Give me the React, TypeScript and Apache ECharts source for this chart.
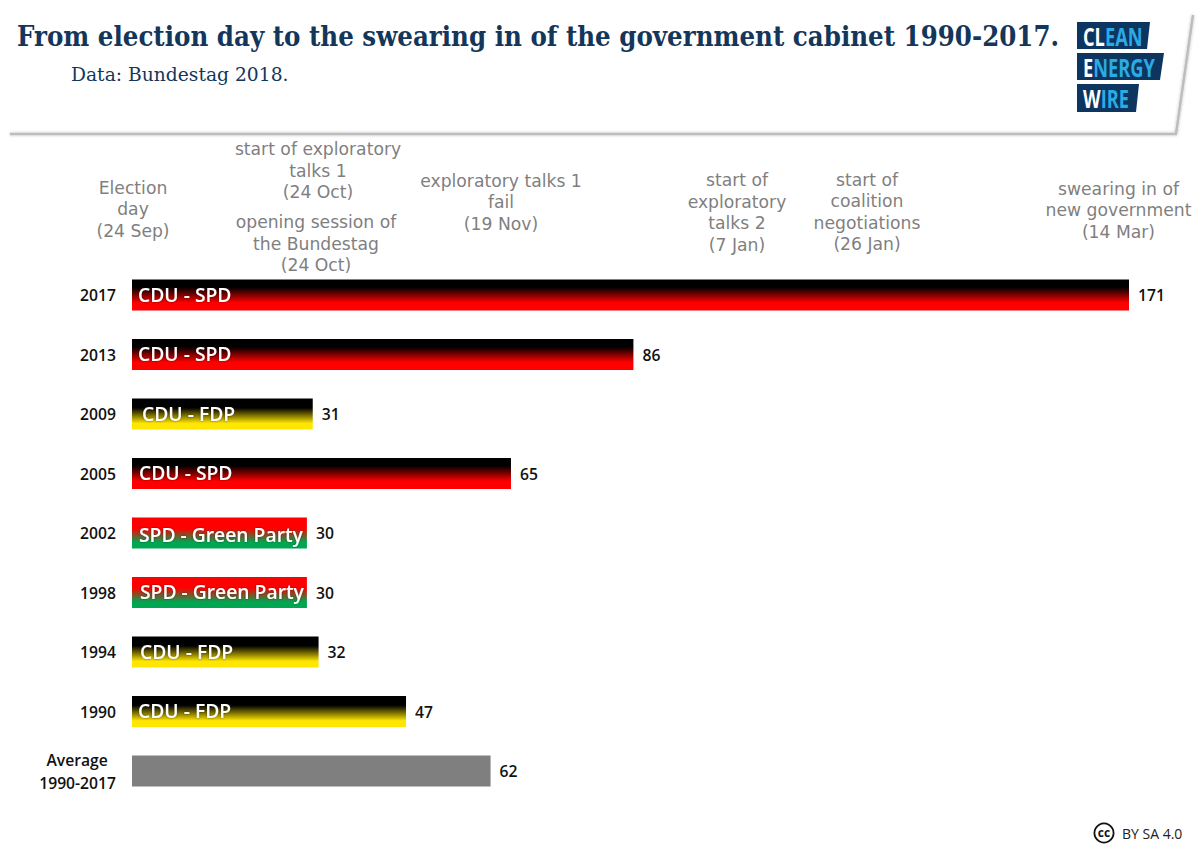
import React, { useEffect, useRef } from "react";
import * as echarts from "echarts";

const categories = ["2017", "2013", "2009", "2005", "2002", "1998", "1994", "1990", "Average\u00A0\u00A0\n1990-2017"];
const days = [171, 86, 31, 65, 30, 30, 32, 47, 61.5];
const coalitions = ["CDU - SPD", "CDU - SPD", "CDU - FDP", "CDU - SPD", "SPD - Green Party", "SPD - Green Party", "CDU - FDP", "CDU - FDP", ""];
const kinds = ["bs", "bs", "by", "bs", "rg", "rg", "by", "by", "avg"];
const milestones = [
  { text: "Election\nday\n(24 Sep)", x: 133, y: 209 },
  { text: "start of exploratory\ntalks 1\n(24 Oct)", x: 318, y: 170.5 },
  { text: "opening session of\nthe Bundestag\n(24 Oct)", x: 316, y: 243.5 },
  { text: "exploratory talks 1\nfail\n(19 Nov)", x: 501, y: 202 },
  { text: "start of\nexploratory\ntalks 2\n(7 Jan)", x: 737, y: 212.5 },
  { text: "start of\ncoalition\nnegotiations\n(26 Jan)", x: 867, y: 212 },
  { text: "swearing in of\nnew government\n(14 Mar)", x: 1118.5, y: 210 },
];
const title = "From election day to the swearing in of the government cabinet 1990-2017.";
const subtitle = "Data: Bundestag 2018.";

const grad = (stops: [number, string][]) =>
  new echarts.graphic.LinearGradient(0, 0, 0, 1, stops.map(([offset, color]) => ({ offset, color })));

const fills: Record<string, () => any> = {
  bs: () => grad([[0, "#000000"], [0.25, "#000000"], [0.75, "#ff0000"], [1, "#ff0000"]]),
  by: () => grad([[0, "#000000"], [0.3, "#000000"], [0.8, "#ffe600"], [1, "#ffe600"]]),
  rg: () => grad([[0, "#ff0000"], [0.35, "#ff0000"], [0.8, "#00a651"], [1, "#00a651"]]),
  avg: () => "#7f7f7f",
};

const labelOffsets = [[6, -1], [6, -1], [10, -1], [7, -1], [7, 1], [8, -1], [8, -1], [6, -1], [0, 0]];

const logoFont = "700 25px 'Open Sans'";
const logoRow = (pts: number[][], y: number, white: string, blue: string) => [
  { type: "polygon", shape: { points: pts }, style: { fill: "#0c3560" } },
  {
    type: "text", x: 1083, y, scaleX: 0.73,
    style: {
      text: `{w|${white}}{b|${blue}}`, verticalAlign: "middle", align: "left",
      rich: {
        w: { fill: "#ffffff", font: logoFont },
        b: { fill: "#2babe3", font: logoFont },
      },
    },
  },
];

export default function App() {
  const ref = useRef<HTMLDivElement>(null);
  useEffect(() => {
    const chart = echarts.init(ref.current!, undefined, { renderer: "svg" });
    chart.setOption({
      animation: false,
      backgroundColor: "#ffffff",
      grid: { left: 132, top: 265.25, width: 997, height: 535.5, containLabel: false },
      xAxis: { type: "value", min: 0, max: 171, show: false },
      yAxis: {
        type: "category", data: categories, inverse: true,
        axisLine: { show: false }, axisTick: { show: false },
        axisLabel: {
          margin: 16, align: "right", color: "#111111", padding: [0, 0, 2, 0],
          fontFamily: "'Open Sans'", fontSize: 15.7, fontWeight: 600, lineHeight: 23,
        },
      },
      series: [
        {
          type: "bar", barWidth: 31, barGap: "-100%",
          data: days.map((v, i) => ({ value: v, itemStyle: { color: fills[kinds[i]]() } })),
          label: {
            show: true, position: "right", distance: 9, color: "#111111",
            fontFamily: "'Open Sans'", fontSize: 15.7, fontWeight: 600,
            formatter: (p: any) => String(Math.round(p.value)),
          },
        },
        {
          type: "bar", barWidth: 31, barGap: "-100%", silent: true,
          data: days.map((v, i) => ({ value: v, label: { offset: labelOffsets[i] } })),
          itemStyle: { color: "rgba(0,0,0,0)" },
          label: {
            show: true, position: "insideLeft", distance: 0, color: "#ffffff",
            fontFamily: "'Open Sans'", fontSize: 19.3, fontWeight: 600,
            textShadowColor: "rgba(0,0,0,0.45)", textShadowBlur: 2,
            formatter: (p: any) => coalitions[p.dataIndex],
          },
        },
      ],
      graphic: [
        {
          type: "polyline", silent: true,
          shape: { points: [[10, 134], [1176, 134], [1193, 15]] },
          style: { stroke: "#bdbdbd", lineWidth: 2.5, fill: "none", shadowColor: "rgba(0,0,0,0.25)", shadowBlur: 3 },
        },
        {
          type: "text", x: 17, y: 36,
          style: { text: title, font: "700 27.3px 'DejaVu Serif Condensed', 'DejaVu Serif'", fill: "#14365a", verticalAlign: "middle" },
        },
        {
          type: "text", x: 71, y: 74,
          style: { text: subtitle, font: "400 18.7px 'DejaVu Serif'", fill: "#14365a", verticalAlign: "middle" },
        },
        ...logoRow([[1077, 22], [1150, 22], [1147, 49], [1077, 49]], 36, "CL", "EAN"),
        ...logoRow([[1077, 53], [1164, 53], [1160, 80], [1077, 80]], 67, "E", "NERGY"),
        ...logoRow([[1077, 84], [1139, 84], [1136, 112], [1077, 112]], 98, "W", "IRE"),
        ...milestones.map((m) => ({
          type: "text", x: m.x, y: m.y,
          style: {
            text: m.text, font: "400 17.2px 'DejaVu Sans'", fill: "#7f7f7f",
            align: "center", verticalAlign: "middle", lineHeight: 21.5,
          },
        })),
        { type: "ring", shape: { cx: 1104, cy: 833, r: 10.5, r0: 8.7 }, style: { fill: "#111111" } },
        {
          type: "text", x: 1104, y: 832,
          style: { text: "cc", font: "700 12px 'Open Sans'", fill: "#111111", align: "center", verticalAlign: "middle" },
        },
        {
          type: "text", x: 1122, y: 833,
          style: { text: "BY SA 4.0", font: "400 14px 'Open Sans'", fill: "#222222", verticalAlign: "middle" },
        },
      ],
    });
    return () => chart.dispose();
  }, []);
  return <div ref={ref} style={{ position: "absolute", left: 0, top: 0, width: 1200, height: 848 }} />;
}
